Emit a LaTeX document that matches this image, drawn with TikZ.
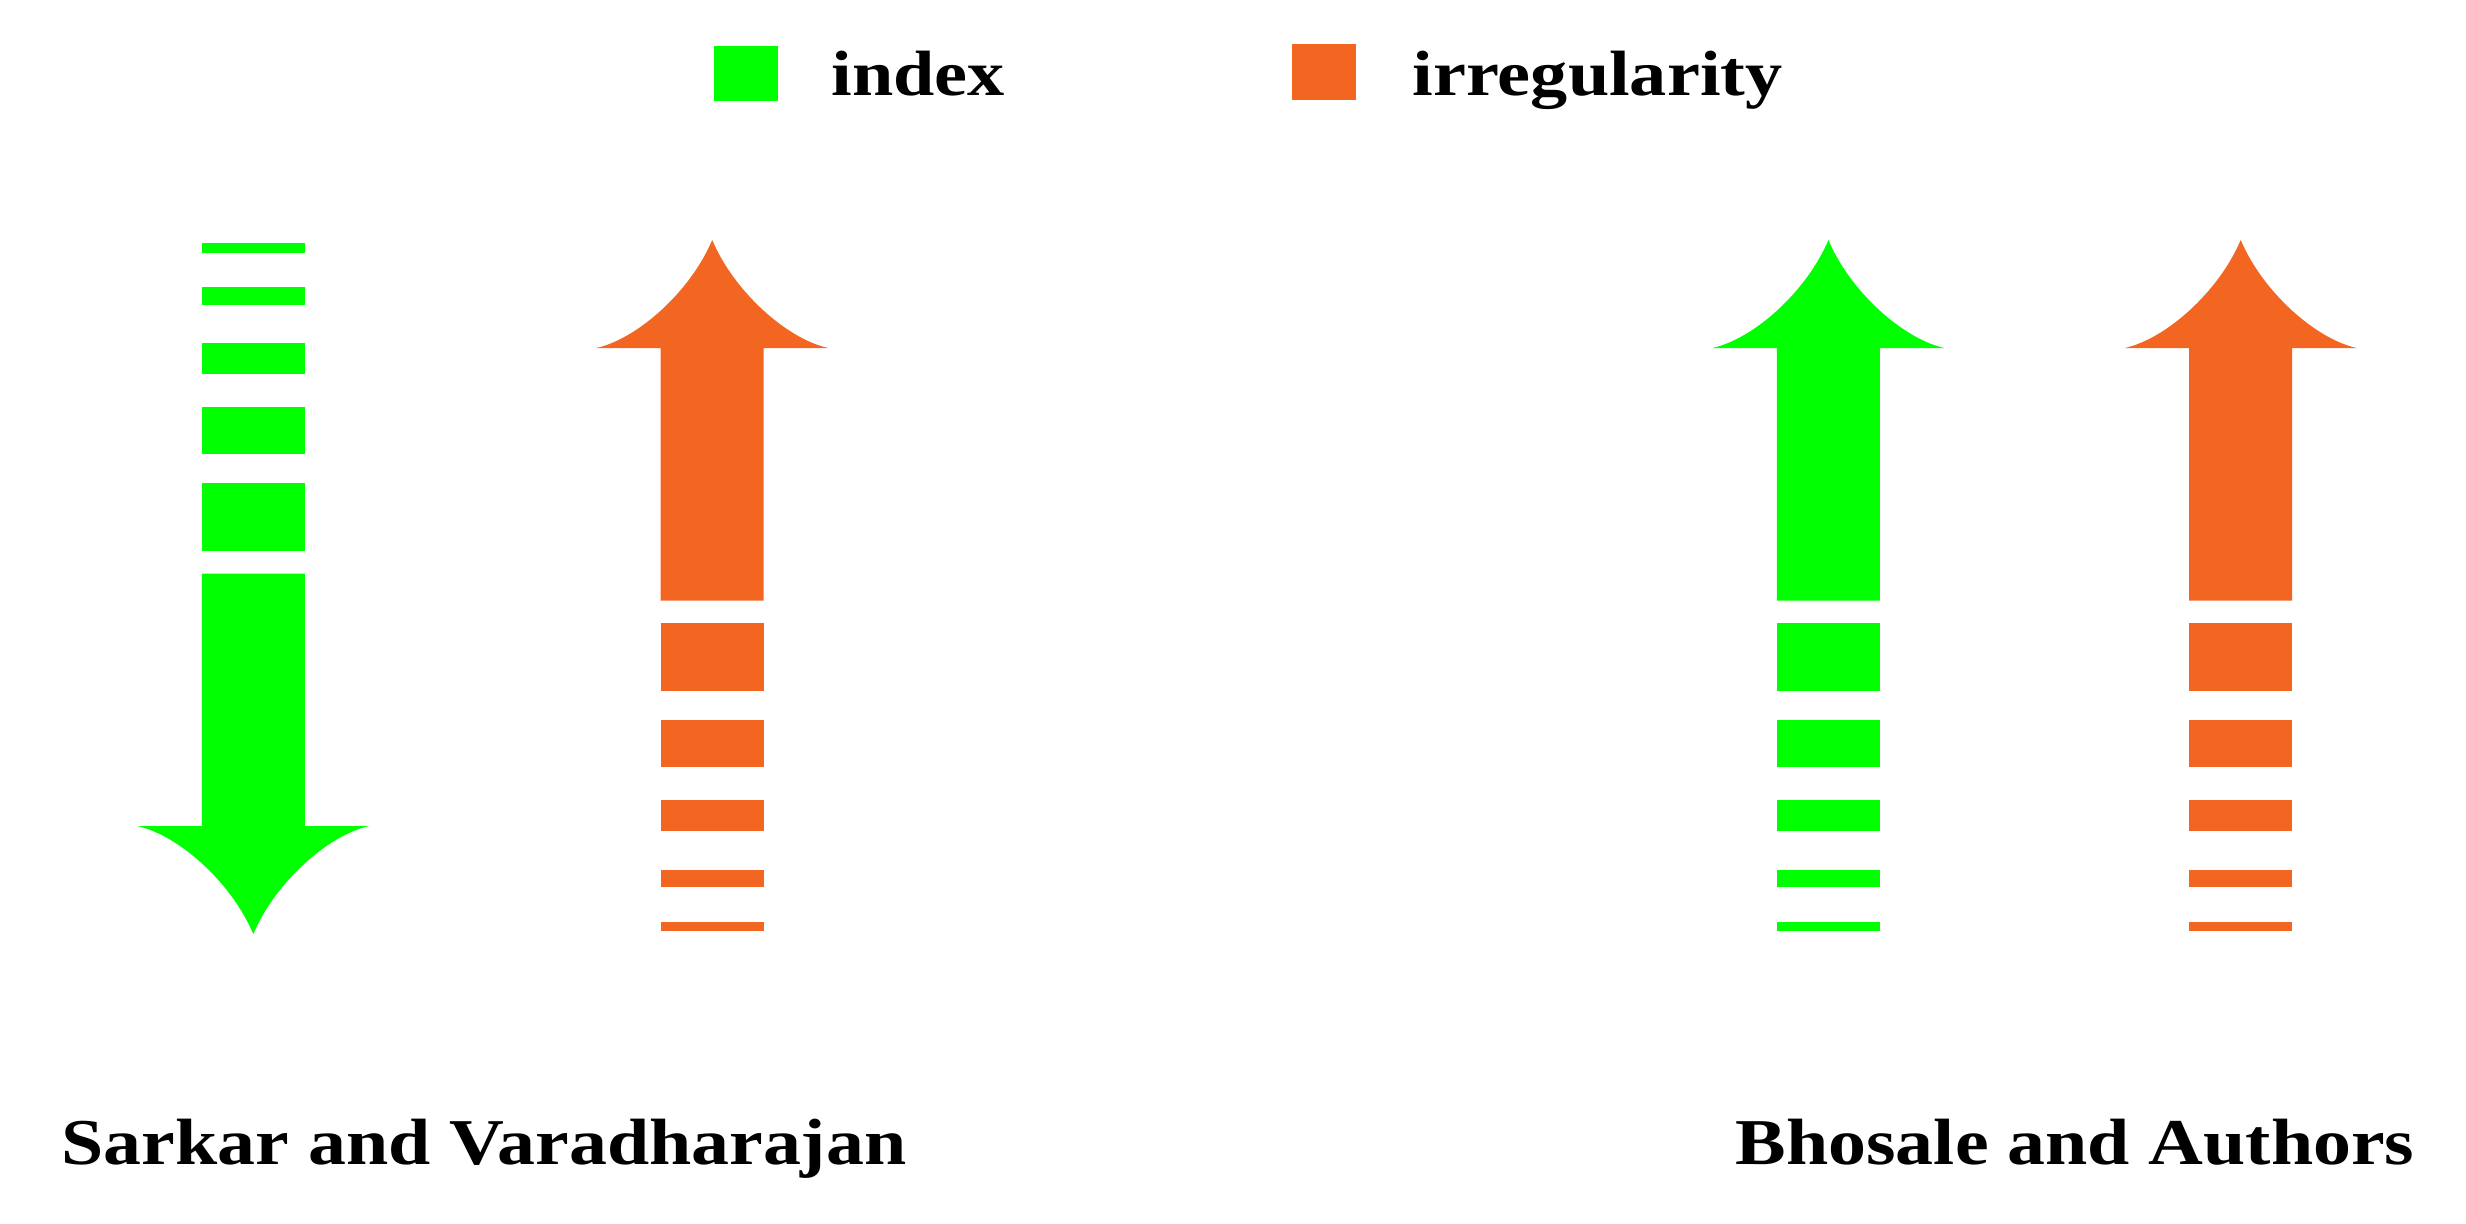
\documentclass[tikz,border=0pt]{standalone}
\usepackage{fontspec}
\newfontfamily\lblfont[FakeStretch=1.16]{Liberation Serif}
\definecolor{idxgreen}{RGB}{0,255,0}
\definecolor{irrorange}{RGB}{242,102,34}
\newcommand{\ArrowUp}[1]{%
  \fill[#1] (0,240) .. controls (22,292) and (75,339) .. (116,348)
    -- (51.5,348) -- (51.5,600.5) -- (-51.5,600.5) -- (-51.5,348) -- (-116,348)
    .. controls (-75,339) and (-22,292) .. (0,240) -- cycle;
  \fill[#1] (-51.5,623) rectangle (51.5,691);
  \fill[#1] (-51.5,719.6) rectangle (51.5,767.2);
  \fill[#1] (-51.5,800) rectangle (51.5,831);
  \fill[#1] (-51.5,869.5) rectangle (51.5,887);
  \fill[#1] (-51.5,921.5) rectangle (51.5,930.7);
}
\tikzset{
  legtext/.style={inner sep=0pt, anchor=base west, font=\lblfont\bfseries\fontsize{18.2}{20}\selectfont},
  captext/.style={inner sep=0pt, anchor=base west, font=\lblfont\bfseries\fontsize{18.6}{21}\selectfont},
}
\begin{document}
\begin{tikzpicture}[x=0.01cm, y=-0.01cm]
\useasboundingbox[fill=white] (0,0) rectangle (2466,1224);
% legend
\fill[idxgreen] (714,45.7) rectangle (778.3,100.7);
\node[legtext] (lidx) at (831,95.5) {index};
\fill[irrorange] (1291.7,44) rectangle (1356,100);
\node[legtext] (lirr) at (1412,95.5) {irregularity};
% left group
\begin{scope}[shift={(253.3,1174)}, yscale=-1]
  \ArrowUp{idxgreen}
\end{scope}
\begin{scope}[shift={(712.2,0)}]
  \ArrowUp{irrorange}
\end{scope}
% right group
\begin{scope}[shift={(1828.4,0)}]
  \ArrowUp{idxgreen}
\end{scope}
\begin{scope}[shift={(2240.7,0)}]
  \ArrowUp{irrorange}
\end{scope}
% captions
\node[captext] (capl) at (61,1164) {Sarkar and Varadharajan};
\node[captext] (capr) at (1735,1164) {Bhosale and Authors};
\end{tikzpicture}
\end{document}
